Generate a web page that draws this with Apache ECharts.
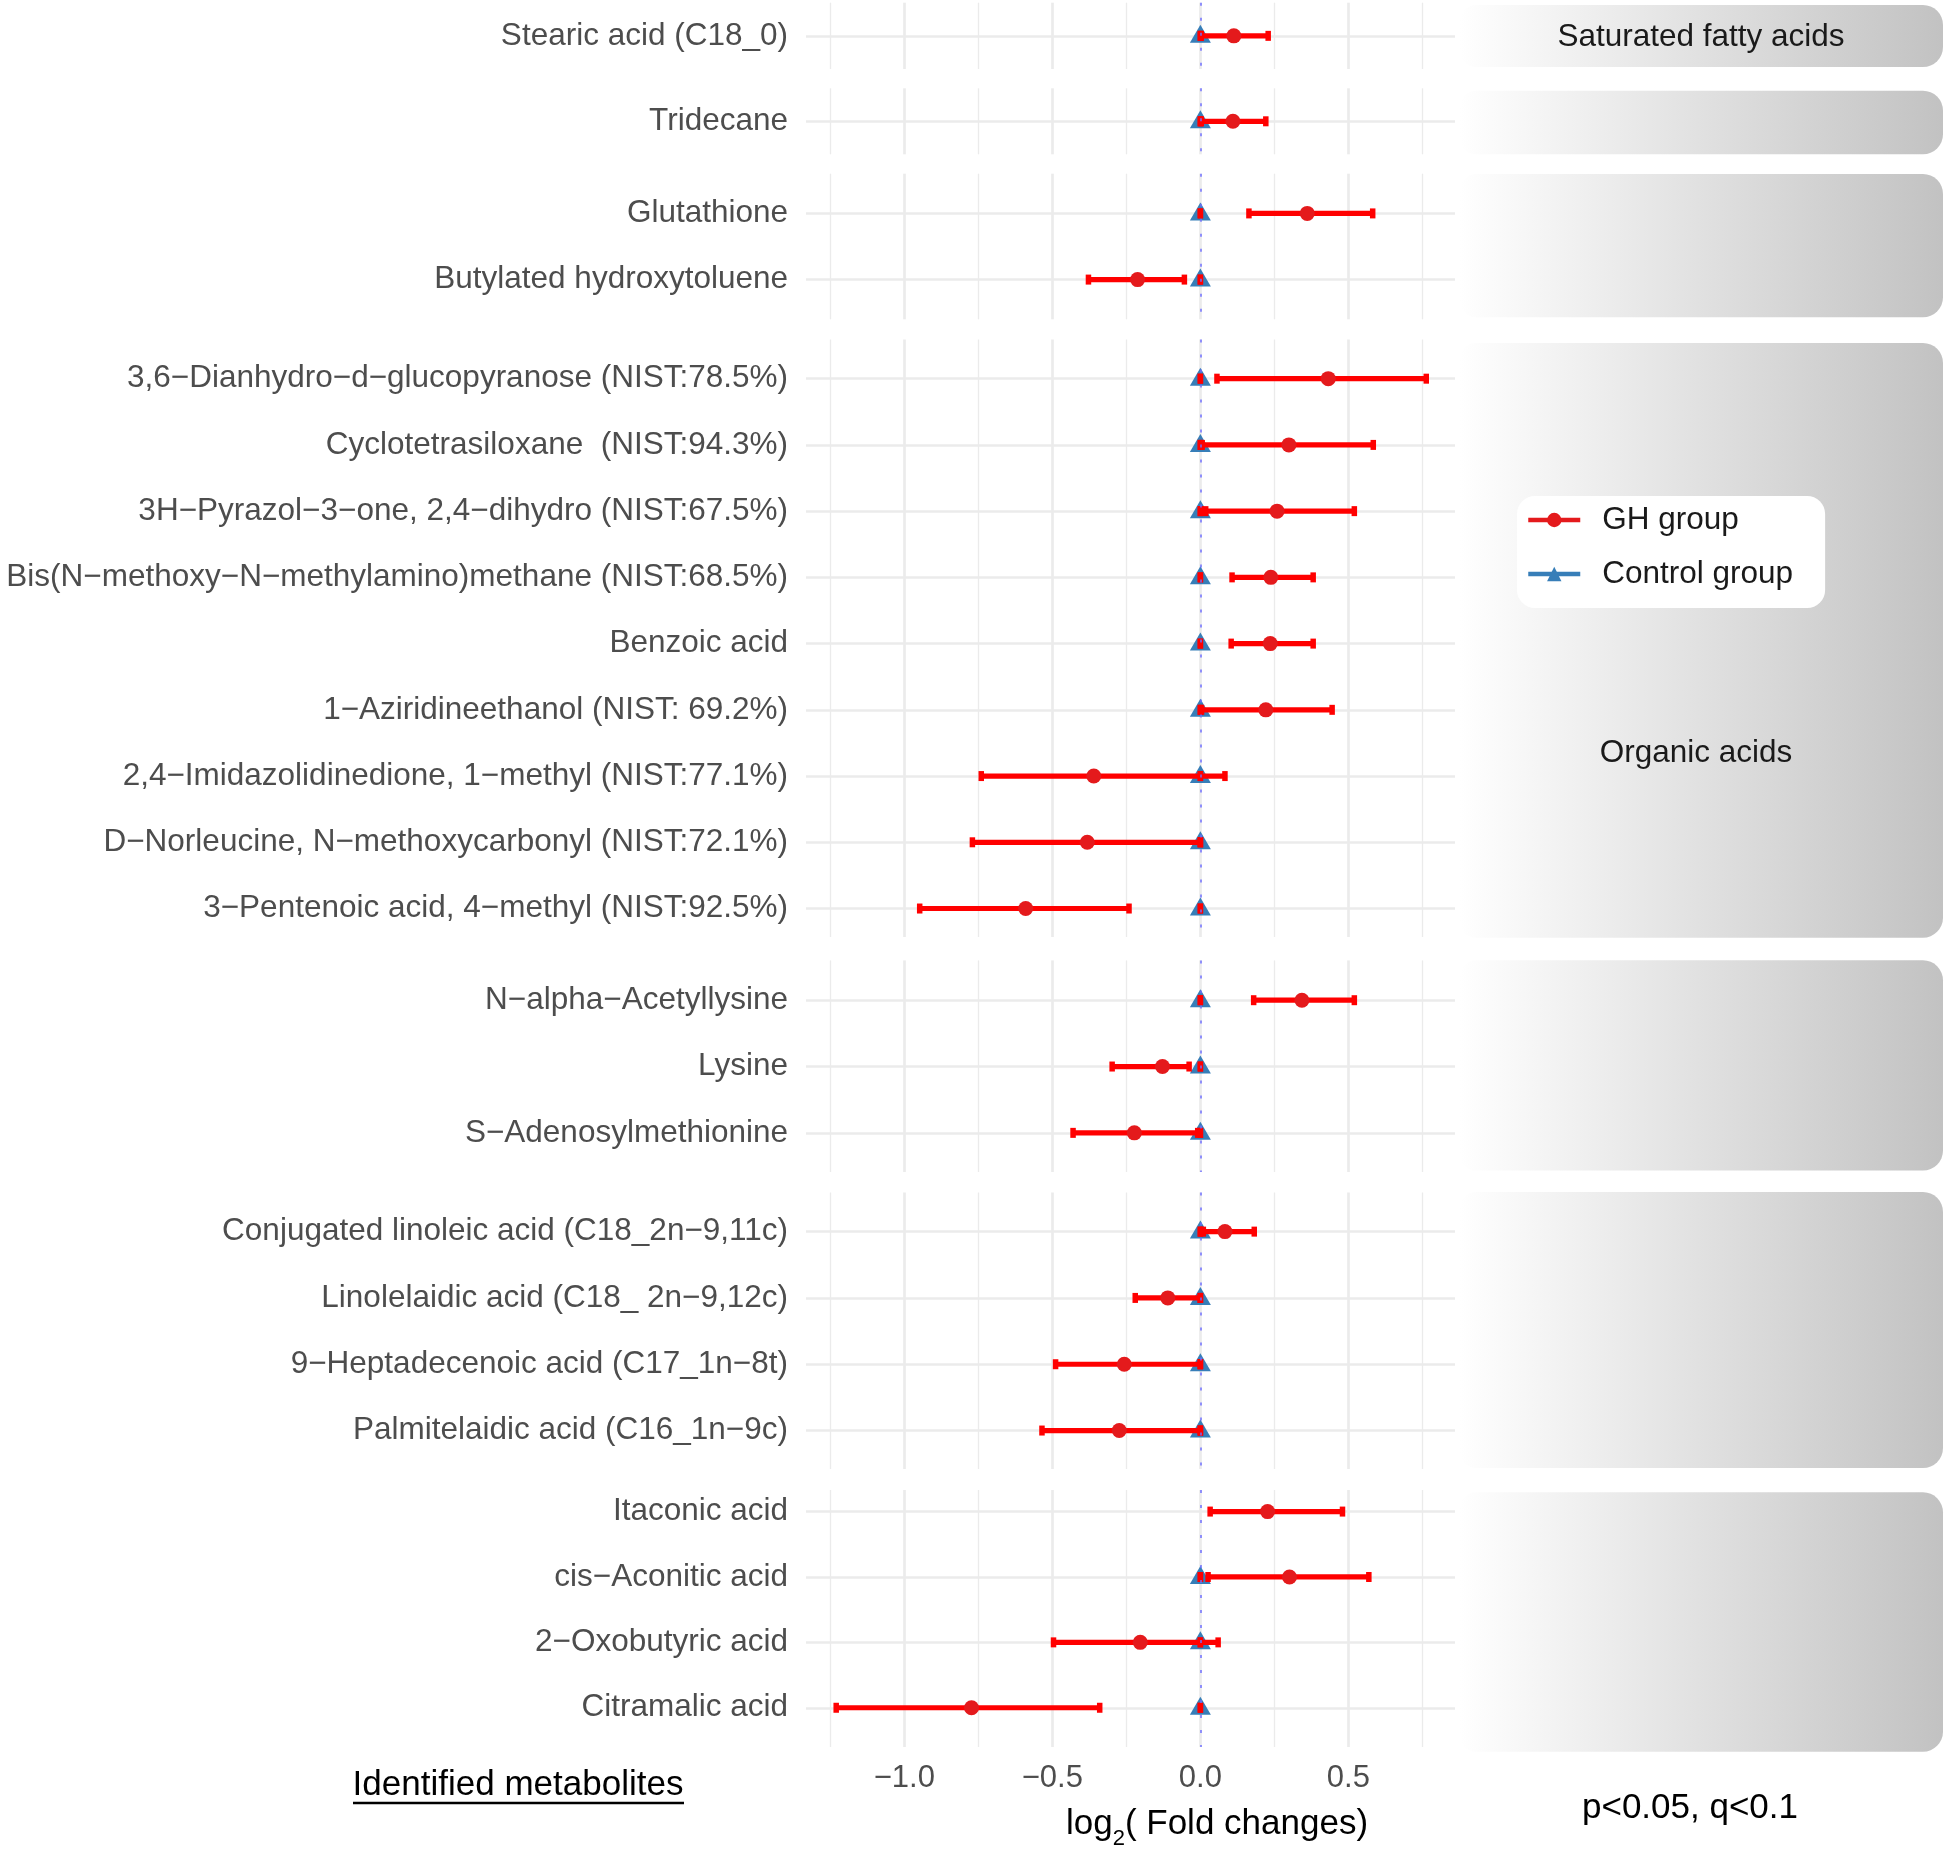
<!DOCTYPE html>
<html>
<head>
<meta charset="utf-8">
<script src="https://cdn.jsdelivr.net/npm/echarts@6/dist/echarts.min.js"></script>
<style>
html,body{margin:0;padding:0;background:#ffffff;}
#chart{width:1944px;height:1849px;}
</style>
</head>
<body>
<div id="chart"></div>
<script>
// ---------------- DATA ----------------
const metabolites = [
  'Stearic acid (C18_0)',
  'Tridecane',
  'Glutathione',
  'Butylated hydroxytoluene',
  '3,6\u2212Dianhydro\u2212d\u2212glucopyranose (NIST:78.5%)',
  'Cyclotetrasiloxane  (NIST:94.3%)',
  '3H\u2212Pyrazol\u22123\u2212one, 2,4\u2212dihydro (NIST:67.5%)',
  'Bis(N\u2212methoxy\u2212N\u2212methylamino)methane (NIST:68.5%)',
  'Benzoic acid',
  '1\u2212Aziridineethanol (NIST: 69.2%)',
  '2,4\u2212Imidazolidinedione, 1\u2212methyl (NIST:77.1%)',
  'D\u2212Norleucine, N\u2212methoxycarbonyl (NIST:72.1%)',
  '3\u2212Pentenoic acid, 4\u2212methyl (NIST:92.5%)',
  'N\u2212alpha\u2212Acetyllysine',
  'Lysine',
  'S\u2212Adenosylmethionine',
  'Conjugated linoleic acid (C18_2n\u22129,11c)',
  'Linolelaidic acid (C18_ 2n\u22129,12c)',
  '9\u2212Heptadecenoic acid (C17_1n\u22128t)',
  'Palmitelaidic acid (C16_1n\u22129c)',
  'Itaconic acid',
  'cis\u2212Aconitic acid',
  '2\u2212Oxobutyric acid',
  'Citramalic acid'
];
const panelOf = [0,1,2,2,3,3,3,3,3,3,3,3,3,4,4,4,5,5,5,5,6,6,6,6];
const ghMean = [0.113,0.110,0.361,-0.212,0.432,0.299,0.259,0.238,0.236,0.221,-0.360,-0.382,-0.590,0.343,-0.128,-0.223,0.083,-0.110,-0.257,-0.274,0.227,0.301,-0.203,-0.773];
const ghLow  = [0.003,0.003,0.164,-0.378,0.056,0.006,0.018,0.107,0.104,0.004,-0.740,-0.770,-0.948,0.180,-0.298,-0.430,0.010,-0.220,-0.489,-0.535,0.033,0.026,-0.496,-1.230];
const ghHigh = [0.229,0.221,0.582,-0.054,0.763,0.584,0.520,0.381,0.381,0.445,0.083,0.000,-0.241,0.520,-0.038,-0.009,0.182,0.000,0.000,0.000,0.480,0.569,0.060,-0.340];
const ctrlMean = [0,0,0,0,0,0,0,0,0,0,0,0,0,0,0,0,0,0,0,0,null,0,0,0];
const panelLabels = ['Saturated fatty acids','','','Organic acids','','',''];
const xTicks = [-1.0,-0.5,0.0,0.5];
const xMinorTicks = [-1.25,-0.75,-0.25,0.25,0.75];
const xRange = [-1.332, 0.86];

// ---------------- LAYOUT (pixels) ----------------
const FONT = '"Liberation Sans", Arial, Helvetica, sans-serif';
const GRID_LEFT = 806, GRID_WIDTH = 649;
const PANEL_BOX = [[2.7,69],[88.3,154.3],[173.7,319.3],[339.6,937],[960.4,1172],[1192.5,1469],[1490,1747]];
const PANEL_PAD = [[0.5,0.5],[0.5,0.5],[0.6,0.6],[0.59,0.43],[0.6,0.59],[0.59,0.58],[0.33,0.6]];
const STRIP_X = 1460, STRIP_W = 483;
const STRIP_BOX = [[5,67],[90.7,154.3],[174,317.3],[343,937.7],[960.3,1170.6],[1192,1468],[1492.3,1751.7]];
const STRIP_TEXT_POS = [[1701,37],null,null,[1696,753],null,null,null];

const nPanels = PANEL_BOX.length;
const grids = [], xAxes = [], yAxes = [], series = [];

function fmtTick(v){
  return (v < 0 ? '\u2212' : '') + Math.abs(v).toFixed(1);
}

function errRender(params, api){
  const a = api.coord([api.value(0), api.value(2)]);
  const b = api.coord([api.value(1), api.value(2)]);
  const y = a[1];
  const ch = 10, cw = 5.5;
  return {
    type: 'group',
    children: [
      {type:'line', shape:{x1:a[0], y1:y, x2:b[0], y2:y}, style:{stroke:'#FF0000', lineWidth:5.2}},
      {type:'rect', shape:{x:a[0]-cw/2, y:y-ch/2, width:cw, height:ch}, style:{fill:'#FF0000'}},
      {type:'rect', shape:{x:b[0]-cw/2, y:y-ch/2, width:cw, height:ch}, style:{fill:'#FF0000'}}
    ]
  };
}

for (let p = 0; p < nPanels; p++){
  const rows = [];
  metabolites.forEach((m, i) => { if (panelOf[i] === p) rows.push(i); });
  const names = rows.map(r => metabolites[r]);
  const idx = rows.map((r, j) => j);
  const top = PANEL_BOX[p][0], bottom = PANEL_BOX[p][1];
  grids.push({left: GRID_LEFT, top: top, width: GRID_WIDTH, height: bottom - top, outerBoundsMode: 'none'});
  const isLast = p === nPanels - 1;
  // major x axis
  xAxes.push({
    gridIndex: p, type: 'value', min: xRange[0], max: xRange[1], position: 'bottom',
    axisLine: {show: false}, axisTick: {show: false, customValues: xTicks},
    axisLabel: {show: isLast, customValues: xTicks, formatter: fmtTick, fontSize: 31, color: '#4D4D4D', fontFamily: FONT, margin: 16},
    splitLine: {show: true, lineStyle: {color: '#EBEBEB', width: 2.7}},
    name: isLast ? '{n|log}{s|2}{n|( Fold changes)}' : '',
    nameLocation: 'middle', nameGap: 51,
    nameTextStyle: {
      padding: [0, 0, 0, 173],
      rich: {
        n: {fontSize: 35, color: '#000000', fontFamily: FONT, lineHeight: 52},
        s: {fontSize: 22, color: '#000000', fontFamily: FONT, lineHeight: 22, verticalAlign: 'bottom'}
      }
    }
  });
  // minor x axis
  xAxes.push({
    gridIndex: p, type: 'value', min: xRange[0], max: xRange[1], position: 'top',
    axisLine: {show: false}, axisTick: {show: false, customValues: xMinorTicks},
    axisLabel: {show: false, customValues: xMinorTicks},
    splitLine: {show: true, lineStyle: {color: '#EBEBEB', width: 1.3}}
  });
  yAxes.push({
    gridIndex: p, type: 'value', inverse: true,
    min: -PANEL_PAD[p][0], max: names.length - 1 + PANEL_PAD[p][1],
    axisLine: {show: false}, axisTick: {show: false, customValues: idx},
    axisLabel: {customValues: idx, formatter: v => names[Math.round(v)], fontSize: 31.5, color: '#4D4D4D', fontFamily: FONT, margin: 18},
    splitLine: {show: true, lineStyle: {color: '#EBEBEB', width: 2.7}}
  });

  const ctrlRows = rows.map((r, j) => [r, j]).filter(d => ctrlMean[d[0]] !== null);
  series.push({
    type: 'line', name: 'Control group', xAxisIndex: 2*p, yAxisIndex: p,
    data: ctrlRows.map(d => [ctrlMean[d[0]], d[1]]),
    symbol: 'triangle', symbolSize: [21, 18], symbolOffset: [0, -2],
    itemStyle: {color: '#377EB8'}, lineStyle: {color: '#377EB8', width: 2, opacity: 0},
    z: 3, silent: true, animation: false,
    markLine: {
      silent: true, symbol: 'none', label: {show: false},
      lineStyle: {color: '#6F6FFF', type: [3, 12], width: 2, opacity: 0.75},
      data: [{xAxis: 0}], animation: false
    }
  });
  series.push({
    type: 'custom', name: 'Control errorbar', xAxisIndex: 2*p, yAxisIndex: p,
    dimensions: ['lo','hi','row'], encode: {x: [0, 1], y: 2},
    data: ctrlRows.map(d => [ctrlMean[d[0]], ctrlMean[d[0]], d[1]]),
    renderItem: errRender, z: 4, silent: true, animation: false
  });
  series.push({
    type: 'custom', name: 'GH errorbar', xAxisIndex: 2*p, yAxisIndex: p,
    dimensions: ['lo','hi','row'], encode: {x: [0, 1], y: 2},
    data: rows.map((r, j) => [ghLow[r], ghHigh[r], j]),
    renderItem: errRender, z: 4, silent: true, animation: false
  });
  series.push({
    type: 'line', name: 'GH group', xAxisIndex: 2*p, yAxisIndex: p,
    data: rows.map((r, j) => [ghMean[r], j]),
    symbol: 'circle', symbolSize: 15,
    itemStyle: {color: '#E41A1C'}, lineStyle: {color: '#E41A1C', width: 2, opacity: 0},
    z: 5, silent: true, animation: false
  });
}

// strips
const graphics = [];
for (let p = 0; p < nPanels; p++){
  graphics.push({
    type: 'rect', z: -10,
    shape: {x: STRIP_X, y: STRIP_BOX[p][0], width: STRIP_W, height: STRIP_BOX[p][1] - STRIP_BOX[p][0], r: [16, 20, 20, 16]},
    style: {fill: {type: 'linear', x: 0, y: 0, x2: 1, y2: 0, colorStops: [{offset: 0, color: '#FFFFFF'}, {offset: 1, color: '#C2C2C2'}]}}
  });
  if (panelLabels[p]){
    graphics.push({
      type: 'text', z: -5, x: STRIP_TEXT_POS[p][0], y: STRIP_TEXT_POS[p][1],
      style: {text: panelLabels[p], fontSize: 31.5, fontFamily: FONT, fill: '#1A1A1A', align: 'center', verticalAlign: 'middle'}
    });
  }
}
graphics.push({
  type: 'text', x: 518, y: 1785,
  style: {text: 'Identified metabolites', fontSize: 35, fontFamily: FONT, fill: '#000000', align: 'center', verticalAlign: 'middle'}
});
graphics.push({
  type: 'line', shape: {x1: 353, y1: 1803, x2: 684, y2: 1803}, style: {stroke: '#000000', lineWidth: 2.5}
});
graphics.push({
  type: 'text', x: 1690, y: 1808,
  style: {text: 'p<0.05, q<0.1', fontSize: 35, fontFamily: FONT, fill: '#000000', align: 'center', verticalAlign: 'middle'}
});

const option = {
  backgroundColor: '#FFFFFF',
  animation: false,
  textStyle: {fontFamily: FONT},
  grid: grids,
  xAxis: xAxes,
  yAxis: yAxes,
  series: series,
  graphic: graphics,
  legend: {
    orient: 'vertical', left: 1517, top: 496,
    data: ['GH group', 'Control group'],
    selectedMode: false,
    backgroundColor: '#FFFFFF', borderRadius: 18,
    padding: [6, 32, 16, 9],
    itemWidth: 52, itemHeight: 18, itemGap: 18,
    textStyle: {fontSize: 31.5, color: '#1A1A1A', fontFamily: FONT, lineHeight: 36, padding: [0, 0, 0, 17]},
    lineStyle: {width: 4.5, opacity: 1}
  }
};

const chart = echarts.init(document.getElementById('chart'), null, {renderer: 'canvas'});
chart.setOption(option);
</script>
</body>
</html>
